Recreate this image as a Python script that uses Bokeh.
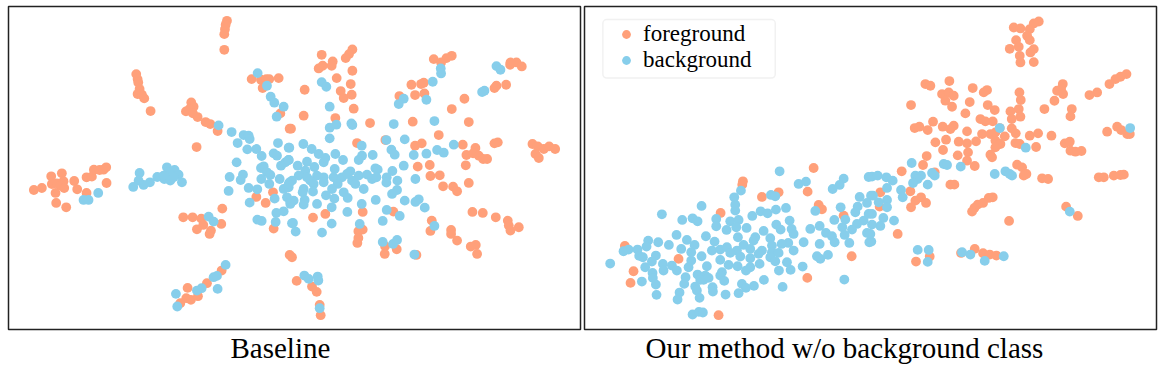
from bokeh.plotting import figure
from bokeh.layouts import row
from bokeh.models import Legend, LegendItem, ColumnDataSource, Title, BoxAnnotation
from bokeh.embed import file_html
from bokeh.resources import INLINE

ORANGE = "#FFA07A"
BLUE = "#87CEEB"

categories = ["foreground", "background"]
captions = ["Baseline", "Our method w/o background class"]

# Embedding coordinates (arbitrary units). "left"/"right" halves; right halves are offset by RIGHT_OFFSET.
RIGHT_OFFSET = 870

baseline_fg_left = [(680,60),(676,72),(674,85),(672,100),(672,147),(408,220),(412,235),(414,245),(418,265),(412,280),(425,282),(432,293),(451,331),
 (573,305),(580,318),(568,325),(557,332),(578,338),(592,349),(616,364),(630,370),(652,391),(589,439),(754,235),(782,237),(798,235),(807,235),(835,232),(787,262),(840,338),(868,384),
 (101,568),(125,562),(153,527),(185,518),(155,550),(170,548),(190,542),(180,555),(192,562),(166,577),(168,607),(198,620),(222,541),(231,566),(259,530),(275,528),(281,507),(298,508),(310,507),(318,500),(319,547),(259,577),
 (549,650),(577,650),(603,654),(609,673),(590,686),(632,690),(628,700),(663,670),(666,624),(818,575),(768,589),(796,607),(820,684),(868,763),
 (664,810),(620,848),(562,862),(540,908),(558,893),(572,898),(593,887)]

baseline_bg_left = [(772,217),(800,255),(811,288),(822,306),(850,318),(829,348),(655,374),(694,394),(730,403),(745,405),(748,415),(712,427),(741,446),(768,445),(784,466),(833,427),(865,441),(820,458),(830,465),(842,495),(855,485),(865,478),(709,485),(782,502),(790,497),(800,515),(810,523),(688,529),(728,522),(721,538),(783,535),(838,535),(807,550),(745,562),(771,566),(685,571),(748,606),(823,594),(850,565),(860,590),(868,545),(865,560),(870,605),(828,637),(850,632),(771,657),(784,661),(826,664),(875,668),
 (500,500),(418,517),(523,508),(471,529),(505,515),(492,535),(510,540),(535,522),(545,545),(449,545),(430,553),(415,540),(399,559),(490,525),(520,530),(294,577),(250,598),(265,598),
 (625,648),(640,663),(676,793),(640,830),(650,826),(527,880),(652,865),(604,863),(590,870),(531,918)]

baseline_fg_right = [(94,162),(186,146),(176,160),(166,172),(127,182),(124,195),(97,195),(85,203),(186,210),(139,232),(181,250),(43,267),(151,271),(184,282),(160,292),(190,324),(40,345),(135,352),(239,367),(2,384),(367,363),(430,175),(484,165),(468,172),(452,185),(400,246),(392,250),(363,252),(402,278),(374,283),(327,286),(618,255),(612,262),(647,252),(522,294),(484,325),(535,364),(659,192),(678,185),(694,197),(660,185),
 (445,403),(394,428),(374,435),(517,432),(200,427),(285,418),(622,425),(612,428),(726,430),(742,437),(760,445),(776,437),(794,445),(735,460),(745,472),
 (555,442),(528,463),(548,458),(565,465),(578,475),(590,475),(526,494),(382,498),(418,493),(420,526),(448,524),(535,547),(458,557),(488,558),(500,572),
 (546,634),(577,637),(616,650),(652,660),(655,675),(660,690),(685,680),(217,634),(309,633),(105,640),(68,651),(424,660),(420,691),(482,688),(482,700),(500,720),(556,733),(541,738),(560,760),
 (217,687),(204,692),(204,712),(201,727),(284,737),(319,746),(283,760),(378,763),(5,770),(19,841),(65,858),(79,874),(88,913),(91,944)]

baseline_bg_right = [(94,244),(108,258),(118,318),(118,381),(138,372),(183,368),(186,373),(118,413),(310,370),(432,361),(343,416),(288,418),(303,447),(313,462),(214,435),(215,465),(205,478),(247,463),(39,430),(64,445),(85,460),(135,460),(158,478),(100,485),(105,472),(50,483),(22,495),(72,499),(133,505),(-3,441),(-5,478),(451,203),(452,218),(427,243),(340,294),(325,310),(408,297),(618,196),(630,207),(582,270),(575,274),(490,432),(440,448),(460,456),(370,463),(408,459),(340,495),(255,503),(262,507),(306,511),(180,512),(205,525),(230,522),(245,535),(258,530),(289,530),(288,546),(321,540),(375,535),(45,510),(25,525),(50,530),(80,525),(100,530),(130,530),(155,530),(170,520),(185,540),(195,550),(220,565),(60,540),(70,550),(100,545),(142,550),(5,540),(-5,550),(40,565),(68,573),(125,565),(160,575),(172,592),(107,584),(37,575),(43,598),(10,600),(0,610),(40,612),(80,610),(132,594),(124,620),(171,634),(214,610),(256,598),(320,568),(305,580),(343,600),(385,596),(375,604),(403,621),(289,628),(328,646),(277,661),(208,670),(124,669),(95,696),(8,667),(16,693),(432,676),(277,724),(308,730),(320,718),(372,762),(42,825),(55,835),(82,828),(84,840),(88,923)]

ours_fg_left = [(700,502),(488,542),(486,552),(595,575),(545,589),(682,573),(715,613),(725,626),(421,637),(790,645),(134,736),(295,775),(160,812),(151,847),(814,767),(681,832),(415,944)]

ours_bg_left = [(598,512),(655,550),(677,543),(865,529),(790,534),(778,553),(757,565),(482,570),(462,590),(572,583),(585,587),(838,589),(872,585),(465,612),(465,630),(364,616),(781,620),(832,618),(860,607),(617,622),(587,627),(705,631),(541,632),(562,638),(516,646),(825,635),(245,641),(337,653),(352,662),(306,658),(408,655),(408,677),(450,662),(475,658),(468,680),(628,660),(588,672),(601,687),(634,685),(640,700),(795,657),(762,658),(850,660),(865,640),(830,670),(718,676),(690,685),(786,680),(439,688),(499,682),(550,691),(815,687),(860,697),(867,725),(737,697),(755,707),(763,725),(793,703),(807,727),(718,730),(670,725),(377,707),(289,703),(320,718),(473,710),(525,710),(520,720),(570,713),(403,723),(204,720),(234,725),(199,738),(266,733),(343,733),(490,733),(624,727),(604,730),(575,735),(303,745),(395,750),(420,747),(440,740),(470,750),(510,745),(450,757),(545,750),(535,760),(575,755),(595,757),(640,750),(130,752),(145,747),(172,747),(177,766),(188,770),(333,755),(364,767),(480,768),(510,773),(570,770),(585,782),(620,785),(710,767),(720,775),(743,763),(227,765),(215,783),(248,790),(275,795),(250,810),(290,810),(195,800),(90,789),(333,780),(325,800),(380,797),(420,778),(445,793),(472,797),(510,800),(497,810),(538,790),(596,810),(631,808),(667,798),(217,817),(218,832),(185,843),(227,852),(316,830),(352,822),(375,825),(370,838),(385,832),(360,838),(425,815),(420,825),(432,841),(551,838),(485,850),(497,862),(521,856),(607,859),(792,837),(345,858),(312,850),(397,860),(398,873),(350,870),(298,876),(358,892),(292,897),(229,883),(436,882),(475,878),(337,942),(356,934),(368,936)]

ours_fg_right = [(430,80),(450,83),(505,62),(490,68),(478,85),(470,105),(437,118),(478,118),(445,138),(418,144),(490,145),(480,155),(448,165),(450,185),(490,184),
 (768,220),(750,228),(735,235),(717,250),(680,275),(657,283),(577,250),(572,265),(560,270),(578,280),(552,300),(522,325),(604,325),(600,347),
 (447,275),(451,298),(445,325),(420,332),(450,348),(424,355),(237,241),(165,250),(180,255),(307,262),(350,268),(340,275),(215,280),(235,275),(250,285),(225,300),(245,318),(298,304),(122,313),(352,313),(373,328),(285,338),
 (330,355),(345,362),(367,362),(188,363),(133,382),(147,378),(172,388),(217,378),(250,375),(240,385),(290,392),(424,383),(436,398),(388,382),(335,400),(360,400),(375,395),(403,407),(478,405),(503,398),(543,405),(710,393),(740,378),(752,388),(770,400),(778,400),
 (195,425),(227,417),(265,423),(290,428),(317,422),(375,420),(390,430),(435,427),(448,430),(583,428),(598,423),(218,448),(375,440),(360,462),(365,470),(293,455),(262,464),(169,466),(497,439),(600,450),(615,453),(633,451),(290,480),(158,493),(313,496),(440,492),(455,500),(468,520),(460,525),(94,512),(193,515),(515,533),(533,535),(685,530),(700,530),(730,525),(750,523),(760,522),(240,552),(252,552),(30,575),(120,572),(152,590),(135,600),(167,607),(122,620),(28,618),(367,590),(355,592),(338,607),(322,612),(312,622),(305,633),(587,618),(622,646),(416,661),(82,700),(178,768),(137,783),(272,757),(313,745),(338,758),(358,762),(378,765)]

ours_bg_right = [(388,382),(466,441),(124,487),(220,490),(230,493),(271,498),(373,520),(405,512),(418,520),(425,525),(185,517),(193,525),(5,528),(22,525),(48,530),(67,540),(135,525),(152,525),(142,535),(128,547),(172,552),(50,562),(92,568),(97,590),(8,585),(50,598),(25,605),(50,620),(5,640),(39,652),(71,660),(30,676),(5,672),(3,723),(0,700),(142,748),(175,748),(172,784),(275,755),(300,762),(343,781),(400,767),(598,633),(779,382)]


def merged(left, right):
    pts = left + [(x + RIGHT_OFFSET, y) for x, y in right]
    return ColumnDataSource(dict(x=[a for a, _ in pts], y=[b for _, b in pts]))


def panel(width, xr, border_left, border_right, caption, caption_offset, fg, bg):
    p = figure(width=width, height=367, x_range=xr, y_range=(987, 17),
               output_backend="svg", toolbar_location=None,
               min_border_left=border_left, min_border_right=border_right,
               min_border_top=6, min_border_bottom=38, x_axis_location=None, y_axis_location=None)
    p.grid.visible = False
    p.outline_line_color = "#222222"
    p.outline_line_width = 1.5
    p.background_fill_color = "white"
    r_fg = p.scatter("x", "y", source=fg, size=9.8, color=ORANGE, line_color=None)
    r_bg = p.scatter("x", "y", source=bg, size=9.8, color=BLUE, line_color=None)
    t = Title(text=caption, align="left", text_font="Liberation Serif", text_font_size="29px",
              text_font_style="normal", text_color="black", standoff=0, offset=caption_offset)
    p.add_layout(t, "below")
    return p, r_fg, r_bg


p1, _, _ = panel(582, (25, 1740), 8, 2, captions[0], 222,
                 merged(baseline_fg_left, baseline_fg_right), merged(baseline_bg_left, baseline_bg_right))
p2, rf, rb = panel(576, (13, 1728), 2, 2, captions[1], 61,
                   merged(ours_fg_left, ours_fg_right), merged(ours_bg_left, ours_bg_right))

p2.add_layout(BoxAnnotation(left=68, right=585, top=56, bottom=232, fill_color="white", fill_alpha=0.8,
                            line_color="#d0d0d0", line_width=1.5, border_radius=4, level="glyph"))

legend = Legend(items=[LegendItem(label=categories[0], renderers=[rf]),
                       LegendItem(label=categories[1], renderers=[rb])],
                location=(27, 256), orientation="vertical",
                label_text_font="Liberation Serif", label_text_font_size="23px",
                label_text_color="black", label_height=22, label_standoff=2,
                glyph_width=30, glyph_height=22, spacing=0,
                padding=0, margin=0, border_line_color=None, background_fill_alpha=0)
p2.add_layout(legend, "center")

layout = row(p1, p2, spacing=0, styles={"position": "absolute", "left": "0px", "top": "0px"})
open("out.html", "w").write(file_html(layout, INLINE))
